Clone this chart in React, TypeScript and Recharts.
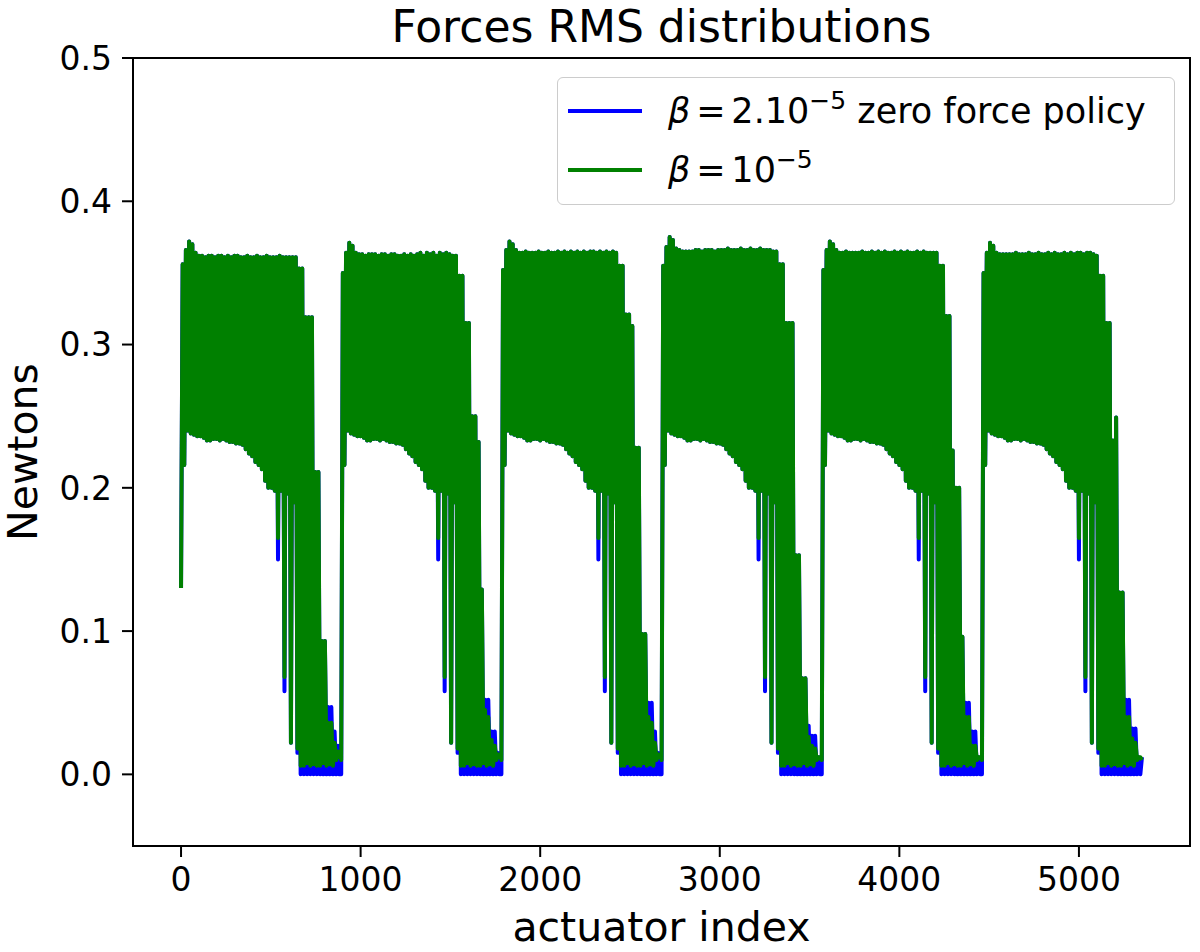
import { LineChart, Line, XAxis, YAxis, Legend, ReferenceArea } from 'recharts'

const FONT = '"DejaVu Sans", sans-serif'

// six mirror segments of 892 actuators each
const SEGMENT_STARTS = [0, 892, 1784, 2676, 3568, 4460]
// every 18 indices: one low sample, then one high sample 9 indices later
const PAIR_STEP = 18

const X_TICKS = [0, 1000, 2000, 3000, 4000, 5000]
const Y_TICKS = [0, 0.1, 0.2, 0.3, 0.4, 0.5]
const X_DOMAIN = [-267.5, 5618.5]
const Y_DOMAIN = [-0.05, 0.5]

const FIRST_LOW_GREEN = [0.13, 0.01, 0.01, 0.01, 0.01, 0.01]
const FIRST_LOW_BLUE = [0.13, 0.0, 0.0, 0.0, 0.0, 0.0]

const LOW_GREEN = [
  0.13, 0.216, 0.24, 0.238, 0.237, 0.236, 0.236, 0.235, 0.233, 0.233,
  0.234, 0.234, 0.233, 0.234, 0.233, 0.232, 0.232, 0.231, 0.231, 0.23,
  0.227, 0.224, 0.222, 0.218, 0.216, 0.213, 0.205, 0.2, 0.2, 0.198,
  0.165, 0.198, 0.068, 0.196, 0.022, 0.19, 0.018, 0.006, 0.006, 0.008,
  0.006, 0.007, 0.006, 0.006, 0.008, 0.006, 0.007, 0.006, 0.01, 0.012,
]

const LOW_BLUE = [
  0.13, 0.216, 0.24, 0.238, 0.237, 0.236, 0.236, 0.235, 0.233, 0.233,
  0.234, 0.234, 0.233, 0.234, 0.233, 0.232, 0.232, 0.231, 0.231, 0.23,
  0.227, 0.224, 0.222, 0.218, 0.216, 0.213, 0.205, 0.2, 0.2, 0.198,
  0.15, 0.198, 0.058, 0.196, 0.022, 0.19, 0.015, 0.0, 0.0, 0.0,
  0.0, 0.0, 0.0, 0.0, 0.0, 0.0, 0.0, 0.0, 0.0, 0.0,
]

// high samples per segment (blue); green follows them except in the tail
const HIGH_SEG1 = [
  0.356, 0.366, 0.372, 0.37, 0.364,
  0.362, 0.362, 0.361, 0.362, 0.362, 0.361, 0.362, 0.362, 0.361, 0.362,
  0.361, 0.362, 0.362, 0.361, 0.361, 0.362, 0.361, 0.361, 0.362, 0.361,
  0.361, 0.362, 0.361, 0.361, 0.361, 0.362, 0.361, 0.361, 0.361, 0.361, 0.361,
  0.353, 0.353, 0.319, 0.319, 0.319, 0.211, 0.211, 0.093, 0.093, 0.047, 0.047, 0.03, 0.02, 0.012,
]
const HIGH_SEG2 = [
  0.35, 0.364, 0.371, 0.369, 0.364,
  0.363, 0.363, 0.362, 0.363, 0.363, 0.363, 0.362, 0.363, 0.363, 0.362,
  0.363, 0.363, 0.362, 0.362, 0.363, 0.362, 0.363, 0.362, 0.363, 0.364,
  0.362, 0.364, 0.363, 0.364, 0.362, 0.364, 0.363, 0.364, 0.363, 0.362, 0.362,
  0.348, 0.348, 0.315, 0.315, 0.25, 0.25, 0.232, 0.129, 0.052, 0.052, 0.03, 0.03, 0.015, 0.012,
]
const HIGH_SEG3 = [
  0.352, 0.366, 0.372, 0.37, 0.366,
  0.364, 0.364, 0.365, 0.364, 0.364, 0.364, 0.365, 0.364, 0.364, 0.365,
  0.364, 0.364, 0.365, 0.364, 0.365, 0.364, 0.365, 0.364, 0.365, 0.364,
  0.365, 0.364, 0.365, 0.365, 0.364, 0.365, 0.364, 0.365, 0.364, 0.365, 0.364,
  0.355, 0.355, 0.321, 0.321, 0.313, 0.228, 0.228, 0.098, 0.098, 0.05, 0.05, 0.03, 0.015, 0.012,
]
const HIGH_SEG4 = [
  0.355, 0.368, 0.375, 0.373, 0.367,
  0.366, 0.365, 0.365, 0.365, 0.365, 0.366, 0.366, 0.365, 0.366, 0.366,
  0.366, 0.365, 0.366, 0.366, 0.366, 0.367, 0.366, 0.366, 0.366, 0.367,
  0.366, 0.366, 0.367, 0.366, 0.366, 0.367, 0.366, 0.366, 0.366, 0.365, 0.365,
  0.356, 0.356, 0.315, 0.315, 0.315, 0.153, 0.153, 0.067, 0.067, 0.034, 0.027, 0.027, 0.012, 0.012,
]
const HIGH_SEG5 = [
  0.352, 0.366, 0.372, 0.37, 0.366,
  0.364, 0.364, 0.365, 0.364, 0.364, 0.364, 0.364, 0.365, 0.364, 0.364,
  0.365, 0.364, 0.365, 0.364, 0.365, 0.364, 0.364, 0.365, 0.364, 0.365,
  0.364, 0.365, 0.364, 0.364, 0.365, 0.364, 0.365, 0.364, 0.364, 0.364, 0.364,
  0.355, 0.355, 0.32, 0.32, 0.226, 0.2, 0.2, 0.096, 0.05, 0.05, 0.03, 0.03, 0.012, 0.012,
]
const HIGH_SEG6 = [
  0.35, 0.364, 0.371, 0.369, 0.364,
  0.363, 0.363, 0.363, 0.363, 0.363, 0.364, 0.363, 0.363, 0.363, 0.364,
  0.363, 0.363, 0.364, 0.363, 0.363, 0.364, 0.363, 0.364, 0.363, 0.363,
  0.364, 0.363, 0.364, 0.363, 0.364, 0.364, 0.363, 0.364, 0.364, 0.363, 0.362,
  0.348, 0.348, 0.315, 0.315, 0.233, 0.249, 0.127, 0.127, 0.052, 0.052, 0.032, 0.032, 0.012, 0.012,
]
const HIGH_BY_SEGMENT = [HIGH_SEG1, HIGH_SEG2, HIGH_SEG3, HIGH_SEG4, HIGH_SEG5, HIGH_SEG6]

// green high samples for pairs 44..49 of each segment
const TAIL_FROM = 44
const GREEN_TAIL = [
  [0.093, 0.036, 0.036, 0.022, 0.016, 0.012],
  [0.045, 0.04, 0.024, 0.02, 0.014, 0.012],
  [0.098, 0.04, 0.036, 0.022, 0.014, 0.012],
  [0.067, 0.026, 0.02, 0.018, 0.012, 0.01],
  [0.04, 0.04, 0.02, 0.02, 0.012, 0.01],
  [0.04, 0.04, 0.025, 0.022, 0.012, 0.01],
]

interface Row {
  x: number
  blue: number
  green: number
}

const rows: Row[] = []
SEGMENT_STARTS.forEach((start, s) => {
  HIGH_BY_SEGMENT[s].forEach((high, j) => {
    const x = start + j * PAIR_STEP
    rows.push({
      x,
      blue: j === 0 ? FIRST_LOW_BLUE[s] : LOW_BLUE[j],
      green: j === 0 ? FIRST_LOW_GREEN[s] : LOW_GREEN[j],
    })
    rows.push({
      x: x + PAIR_STEP / 2,
      blue: high,
      green: j >= TAIL_FROM ? GREEN_TAIL[s][j - TAIL_FROM] : high,
    })
  })
})

function LegendEntry({ y, color, coef, note }: { y: number; color: string; coef: string; note?: string }) {
  return (
    <g>
      <line x1={10} x2={84} y1={y} y2={y} stroke={color} strokeWidth={4} />
      <text x={110} y={y + 12} fontSize={35} fontFamily={FONT} fill="#000">
        <tspan fontStyle="italic">β</tspan>
        <tspan>{'\u2006=\u2006' + coef}</tspan>
        <tspan dy={-14} fontSize={25}>−5</tspan>
        {note ? <tspan dy={14}>{' ' + note}</tspan> : null}
      </text>
    </g>
  )
}

function LegendBox() {
  return (
    <div
      style={{
        width: 618,
        height: 128,
        boxSizing: 'border-box',
        border: '1.5px solid #cccccc',
        borderRadius: 6,
        background: 'rgba(255,255,255,0.8)',
      }}
    >
      <svg width={615} height={125} style={{ display: 'block' }}>
        <LegendEntry y={33} color="#0000ff" coef="2.10" note="zero force policy" />
        <LegendEntry y={92} color="#008000" coef="10" />
      </svg>
    </div>
  )
}

const tickStyle = { fontSize: 33, fill: '#000', fontFamily: FONT }
const axisLineStyle = { stroke: '#000', strokeWidth: 2 }

export default function App() {
  return (
    <div style={{ position: 'absolute', left: 0, top: 0, width: 1200, height: 952, background: '#fff' }}>
      <LineChart width={1200} height={952} data={rows} margin={{ top: 58, right: 10, bottom: 36, left: 63 }}>
        <XAxis
          dataKey="x"
          type="number"
          domain={X_DOMAIN}
          ticks={X_TICKS}
          interval={0}
          allowDataOverflow
          height={70}
          tickSize={11}
          tickMargin={11}
          tick={tickStyle}
          axisLine={axisLineStyle}
          tickLine={axisLineStyle}
        />
        <YAxis
          type="number"
          domain={Y_DOMAIN}
          ticks={Y_TICKS}
          interval={0}
          allowDataOverflow
          width={70}
          tickSize={11}
          tickMargin={10}
          tick={tickStyle}
          axisLine={axisLineStyle}
          tickLine={axisLineStyle}
          tickFormatter={(v: number) => v.toFixed(1)}
        />
        <ReferenceArea
          x1={X_DOMAIN[0]}
          x2={X_DOMAIN[1]}
          y1={Y_DOMAIN[0]}
          y2={Y_DOMAIN[1]}
          fill="none"
          stroke="#000"
          strokeWidth={2}
          ifOverflow="visible"
        />
        <Line
          dataKey="blue"
          type="linear"
          stroke="#0000ff"
          strokeWidth={4}
          strokeLinejoin="round"
          dot={false}
          isAnimationActive={false}
        />
        <Line
          dataKey="green"
          type="linear"
          stroke="#008000"
          strokeWidth={4}
          strokeLinejoin="round"
          dot={false}
          isAnimationActive={false}
        />
        <Legend
          layout="horizontal"
          verticalAlign="middle"
          align="center"
          content={() => <LegendBox />}
          wrapperStyle={{ left: 557, top: 77, width: 618, height: 128 }}
        />
      </LineChart>
      <svg
        width={1200}
        height={952}
        style={{ position: 'absolute', left: 0, top: 0, pointerEvents: 'none' }}
        fontFamily={FONT}
      >
        <text x={661.5} y={42} textAnchor="middle" fontSize={44} fill="#000">
          Forces RMS distributions
        </text>
        <text x={661.5} y={941} textAnchor="middle" fontSize={41} fill="#000">
          actuator index
        </text>
        <text x={37} y={452} textAnchor="middle" fontSize={41} fill="#000" transform="rotate(-90 37 452)">
          Newtons
        </text>
      </svg>
    </div>
  )
}
